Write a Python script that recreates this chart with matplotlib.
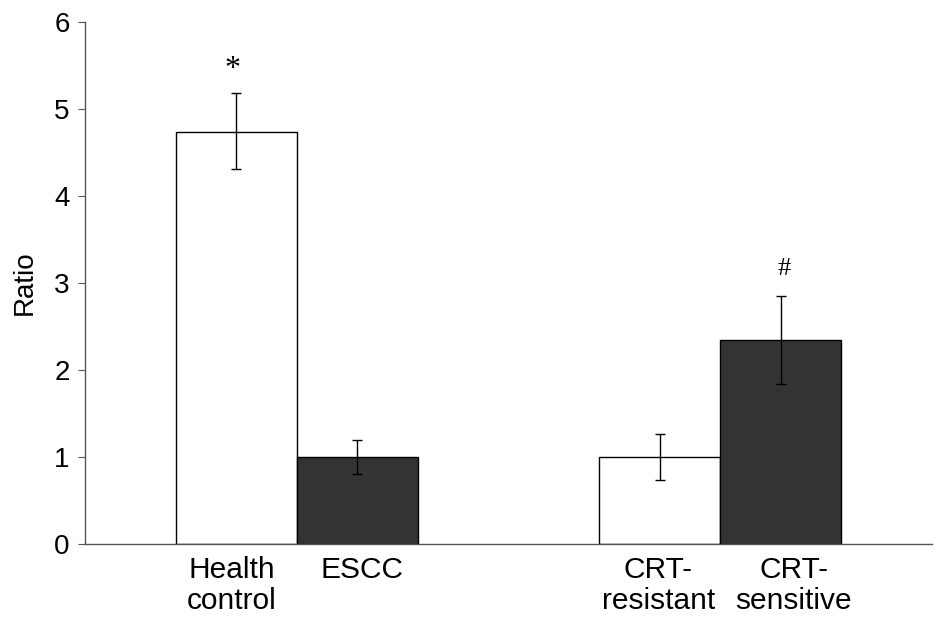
import matplotlib
matplotlib.use("Agg")
import matplotlib.pyplot as plt

# values
categories = ["Health\ncontrol", "ESCC", "CRT-\nresistant", "CRT-\nsensitive"]
ratios = [4.74, 1.00, 1.00, 2.34]
err_low = [0.43, 0.20, 0.26, 0.50]
err_high = [0.44, 0.20, 0.26, 0.51]
bar_pos = [1.25, 2.25, 4.75, 5.75]
label_pos = [1.21, 2.29, 4.74, 5.86]
marks = ["*", "", "", "#"]
mark_y = [5.45, None, None, 3.16]
colors = ["white", "#333333", "white", "#333333"]


def main():
    plt.rcParams["font.family"] = ["Liberation Sans", "DejaVu Sans"]
    fig = plt.figure(figsize=(9.45, 6.21), dpi=100)
    ax = fig.add_axes([0.09, 0.124, 0.896, 0.8406])

    ax.bar(bar_pos, ratios, width=1.0, color=colors, edgecolor="black", linewidth=1.0)
    ax.errorbar(bar_pos, ratios, yerr=[err_low, err_high], fmt="none",
                ecolor="black", elinewidth=1.0, capsize=3.5, capthick=1.0)

    for x, y, m in zip(bar_pos, mark_y, marks):
        if m:
            ax.text(x - 0.03 if m == "*" else x + 0.03, y, m, ha="center", va="center",
                    fontsize=23 if m == "*" else 19, family="Liberation Serif")

    ax.set_xlim(0, 7)
    ax.set_ylim(0, 6)
    ax.set_yticks(range(0, 7))
    ax.tick_params(axis="y", labelsize=20, length=5, direction="out", color="#555555", pad=6)
    ax.set_xticks(label_pos)
    ax.set_xticklabels(categories, fontsize=21.5, linespacing=1.1)
    ax.tick_params(axis="x", length=0, pad=9)
    ax.set_ylabel("Ratio", fontsize=20, labelpad=12)

    for s in ["top", "right"]:
        ax.spines[s].set_visible(False)
    for s in ["left", "bottom"]:
        ax.spines[s].set_color("#555555")
        ax.spines[s].set_linewidth(1.0)

    fig.savefig("out.png", dpi=100)
    plt.close(fig)


if __name__ == '__main__':
    main()
